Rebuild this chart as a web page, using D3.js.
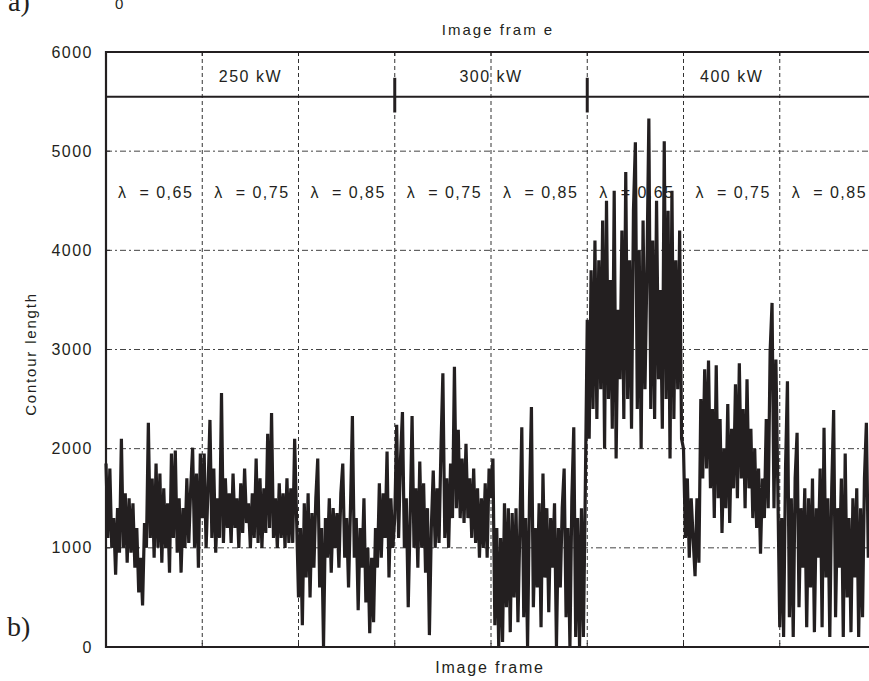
<!DOCTYPE html>
<html>
<head>
<meta charset="utf-8">
<script src="https://cdn.jsdelivr.net/npm/d3@7"></script>
<style>
  body { margin: 0; background: #fff; }
  svg text { fill: #231f20; }
</style>
</head>
<body>
<svg id="chart" width="869" height="681"></svg>
<script>
// contour length per image frame, one array per test condition
const p250_l065 = [1850,1100,1800,1000,1300,730,1400,950,2100,1000,1550,850,1500,950,1450,800,1200,550,900,420,
  1250,1000,2260,1100,1700,900,1850,1000,1750,850,1600,1000,1450,750,1950,1100,1980,950,1500,750,
  1400,1000,1700,1050,1600,2010,1000,1750,800,1950];
const p250_l075 = [1300,1950,1000,1600,2290,1100,1800,950,1500,1100,2560,1050,1700,1200,1550,1050,1750,1200,1500,1000,
  1650,1150,1800,1250,1450,1000,1550,1100,1900,1050,1700,1000,1600,1150,2150,1200,2360,1100,1500,1000,
  1650,1100,1550,1000,1700,1050,1600,1050,2100,1300];
const p250_l085 = [500,1200,220,1450,700,1550,500,1350,800,1500,1900,600,1200,0,1300,900,1500,750,1400,1000,
  1350,800,1550,1850,900,1300,600,1400,2330,900,1300,370,1200,800,1500,450,1000,140,900,250,
  1200,800,1650,900,1550,1100,1970,700,1500,1000];
const p300_l075 = [1300,2240,1100,1900,2370,1000,1500,400,1300,2330,1000,1600,800,1870,1000,1650,750,1400,120,1200,
  1780,1000,1600,1050,2000,2760,1100,1700,1000,1850,1300,2825,1400,2190,1300,1900,1250,2050,1300,1700,
  1100,1800,1050,1600,900,1500,1000,1650,900,1800];
const p300_l085 = [1500,1900,220,1200,0,1100,50,1450,400,1400,150,1350,500,1400,250,1200,2215,300,1300,0,
  1500,2420,400,1200,600,1450,200,1750,700,1400,350,1300,800,1450,0,1200,600,1400,1800,300,
  1200,0,1500,2215,100,1300,0,1400,100,1600];
const p400_l065 = [3300,2100,3800,2400,4100,2300,3900,2600,4300,2000,4500,2500,3700,2200,4600,1900,3400,2700,4200,2300,
  4790,2500,3900,2200,4400,5090,2400,4000,2000,4300,2600,3800,5330,2400,4100,2300,4500,2700,3600,2200,
  5100,2500,4400,1900,4600,2300,3900,2600,4200,2100];
const p400_l075 = [2000,1100,1700,900,1500,1100,715,1500,850,2500,1700,2800,1800,2890,1600,2400,1300,2840,1500,2300,
  1150,2000,1400,2450,1250,2200,1600,2650,1500,2860,1700,2400,1400,2700,1600,2200,1300,2000,1200,1800,
  940,1700,1300,2300,1400,2980,3470,1400,2900,1600];
const p400_l085 = [200,1300,100,1800,2680,300,1500,100,1700,2160,400,1400,800,1600,200,1500,600,1700,150,1400,
  900,1800,200,2210,700,1500,100,1600,2390,300,1400,800,1700,100,1950,500,1300,150,1500,700,
  1600,100,1400,300,1700,2260,900,1500,600,1300];

const segments = [p250_l065, p250_l075, p250_l085, p300_l075, p300_l085, p400_l065, p400_l075, p400_l085];
const lambdaLabels = ["λ  = 0,65", "λ  = 0,75", "λ  = 0,85", "λ  = 0,75", "λ  = 0,85", "λ  = 0,65", "λ  = 0,75", "λ  = 0,85"];
const powerLabels = [{frame: 1500, text: "250 kW"}, {frame: 4000, text: "300 kW"}, {frame: 6500, text: "400 kW"}];
const powerBreaks = [3000, 5000];
const yTicks = [0, 1000, 2000, 3000, 4000, 5000, 6000];
const frameTicks = [0, 1000, 2000, 3000, 4000, 5000, 6000, 7000, 8000];

const sans = "Liberation Sans, Arial, sans-serif";
const serif = "Liberation Serif, Times New Roman, serif";

const svg = d3.select("#chart");
const x = d3.scaleLinear().domain([0, 8000]).range([106, 876]);
const y = d3.scaleLinear().domain([0, 6000]).range([647, 52]);

// flatten segments into frame/value pairs
const data = [];
segments.forEach((seg, k) => {
  seg.forEach((v, i) => data.push({f: k * 1000 + i * 1000 / seg.length, v: v}));
});

// gridlines
svg.append("g")
  .selectAll("line")
  .data(yTicks.filter(d => d > 0 && d < 6000))
  .join("line")
  .attr("x1", x(0)).attr("x2", x(8000))
  .attr("y1", d => y(d)).attr("y2", d => y(d))
  .attr("stroke", "#444").attr("stroke-width", 1)
  .attr("stroke-dasharray", "6,3,2,3");

svg.append("g")
  .selectAll("line")
  .data(frameTicks.filter(d => d > 0))
  .join("line")
  .attr("x1", d => x(d)).attr("x2", d => x(d))
  .attr("y1", y(6000)).attr("y2", y(0))
  .attr("stroke", "#333").attr("stroke-width", 1)
  .attr("stroke-dasharray", "4,3");

// y axis labels
svg.append("g")
  .attr("transform", "translate(" + x(0) + ",0)")
  .call(d3.axisLeft(y).tickValues(yTicks).tickSize(0).tickPadding(13).tickFormat(d3.format("d")))
  .call(g => g.select(".domain").remove())
  .call(g => g.selectAll("text")
    .attr("font-size", 16).attr("letter-spacing", "1.5px")
    .style("font-family", sans).attr("fill", "#231f20"));

// inner tick marks
svg.append("g").selectAll("line").data(yTicks).join("line")
  .attr("x1", x(0)).attr("x2", x(0) + 4)
  .attr("y1", d => y(d)).attr("y2", d => y(d))
  .attr("stroke", "#231f20");
svg.append("g").selectAll("line").data(frameTicks).join("line")
  .attr("x1", d => x(d)).attr("x2", d => x(d))
  .attr("y1", y(0)).attr("y2", y(0) - 4)
  .attr("stroke", "#231f20");
svg.append("g").selectAll("line").data(frameTicks).join("line")
  .attr("x1", d => x(d)).attr("x2", d => x(d))
  .attr("y1", y(6000)).attr("y2", y(6000) + 4)
  .attr("stroke", "#231f20");

// power band line and breaks
svg.append("line")
  .attr("x1", x(0)).attr("x2", x(8000))
  .attr("y1", y(5550)).attr("y2", y(5550))
  .attr("stroke", "#231f20").attr("stroke-width", 2);
svg.append("g").selectAll("line").data(powerBreaks).join("line")
  .attr("x1", d => x(d)).attr("x2", d => x(d))
  .attr("y1", y(5740)).attr("y2", y(5390))
  .attr("stroke", "#231f20").attr("stroke-width", 3);

svg.append("g").selectAll("text").data(powerLabels).join("text")
  .attr("x", d => x(d.frame)).attr("y", y(5700))
  .attr("text-anchor", "middle")
  .attr("font-size", 16).attr("letter-spacing", "1.5px")
  .style("font-family", sans)
  .text(d => d.text);

svg.append("g").selectAll("text").data(lambdaLabels).join("text")
  .attr("x", (d, i) => x(i * 1000) + 12)
  .attr("y", y(4530))
  .attr("font-size", 16).attr("letter-spacing", "1.5px")
  .style("font-family", sans)
  .style("white-space", "pre")
  .text(d => d);

// the signal
svg.append("path")
  .datum(data)
  .attr("fill", "none")
  .attr("stroke", "#231f20")
  .attr("stroke-width", 3.2)
  .attr("stroke-linejoin", "miter")
  .attr("d", d3.line().x(d => x(d.f)).y(d => y(d.v)));

// frame: top, left, bottom
svg.append("path")
  .attr("d", "M" + x(8000) + "," + y(6000) + "H" + x(0) + "V" + y(0) + "H" + x(8000))
  .attr("fill", "none").attr("stroke", "#231f20").attr("stroke-width", 2.2);

// axis titles
svg.append("text")
  .attr("transform", "translate(36,354) rotate(-90)")
  .attr("text-anchor", "middle")
  .attr("font-size", 15).attr("letter-spacing", "1.8px")
  .style("font-family", sans)
  .text("Contour length");
svg.append("text")
  .attr("x", 498).attr("y", 35)
  .attr("text-anchor", "middle")
  .attr("font-size", 15).attr("letter-spacing", "2px")
  .style("font-family", sans)
  .text("Image fram e");
svg.append("text")
  .attr("x", 490).attr("y", 673)
  .attr("text-anchor", "middle")
  .attr("font-size", 16).attr("letter-spacing", "1.8px")
  .style("font-family", sans)
  .text("Image frame");

// panel letters
svg.append("text").attr("x", 8).attr("y", 11)
  .style("font-family", serif)
  .attr("font-size", 28).text("a)");
svg.append("text").attr("x", 115).attr("y", 9)
  .style("font-family", sans)
  .attr("font-size", 15).text("0");
svg.append("text").attr("x", 7).attr("y", 636)
  .style("font-family", serif)
  .attr("font-size", 28).text("b)");
</script>
</body>
</html>
